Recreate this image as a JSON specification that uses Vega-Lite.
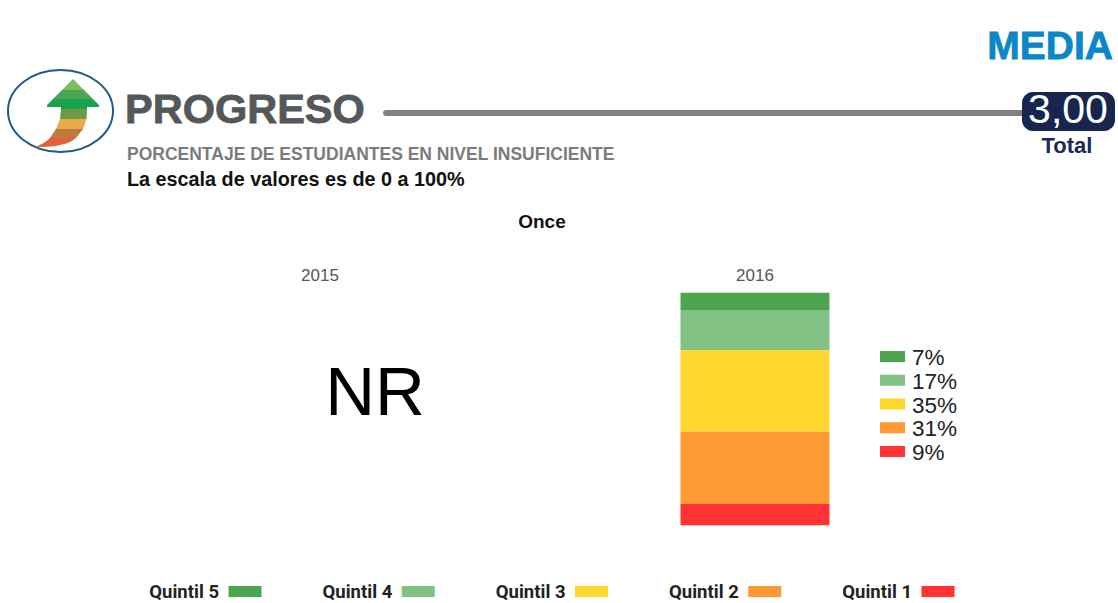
{
"$schema":"https://vega.github.io/schema/vega-lite/v6.json",
"width":1118,"height":603,"autosize":"none","padding":0,"background":"white",
"config":{"view":{"stroke":null},"font":"Liberation Sans"},
"datasets":{
"q":[
{"year":"2016","quintil":"Quintil 5","rank":5,"pct":7.44,"label":"7%"},
{"year":"2016","quintil":"Quintil 4","rank":4,"pct":17.3,"label":"17%"},
{"year":"2016","quintil":"Quintil 3","rank":3,"pct":35.0,"label":"35%"},
{"year":"2016","quintil":"Quintil 2","rank":2,"pct":31.1,"label":"31%"},
{"year":"2016","quintil":"Quintil 1","rank":1,"pct":9.16,"label":"9%"}
]},
"resolve":{"scale":{"x":"independent","y":"independent","color":"independent","shape":"independent"},"axis":{"x":"independent","y":"independent"}},
"layer":[
{"data":{"name":"q"},"mark":{"type":"bar","width":149},
 "encoding":{
  "x":{"field":"year","type":"nominal","scale":{"type":"band","domain":["2015","2016"],"range":[102.5,972.5],"paddingInner":0,"paddingOuter":0},
   "axis":{"orient":"top","title":null,"domain":false,"ticks":false,"labelAngle":0,"labelFontSize":17,"labelColor":"#555555","labelFont":"Liberation Sans","labelPadding":0,"offset":-284,"grid":false}},
  "y":{"field":"pct","type":"quantitative","stack":"zero","scale":{"domain":[0,100],"range":[525.3,292.7]},"axis":null},
  "order":{"field":"rank","type":"ordinal"},
  "color":{"field":"quintil","type":"nominal","legend":null,"scale":{"domain":["Quintil 5","Quintil 4","Quintil 3","Quintil 2","Quintil 1"],"range":["#4da64f","#81c184","#fed82f","#ff9933","#ff3333"]}}
 }},
{"data":{"name":"q"},"mark":{"type":"bar","width":25,"height":11},
 "encoding":{
  "x":{"value":892.5},
  "y":{"field":"quintil","type":"nominal","axis":null,"scale":{"type":"point","padding":0,"domain":["Quintil 5","Quintil 4","Quintil 3","Quintil 2","Quintil 1"],"range":[356.5,451.5]}},
  "color":{"field":"quintil","type":"nominal","legend":null,"scale":{"domain":["Quintil 5","Quintil 4","Quintil 3","Quintil 2","Quintil 1"],"range":["#4da64f","#81c184","#fed82f","#ff9933","#ff3333"]}}
 }},
{"data":{"name":"q"},"mark":{"type":"text","align":"left","baseline":"middle","fontSize":22.5,"color":"#222222"},
 "encoding":{
  "x":{"value":912},
  "y":{"field":"quintil","type":"nominal","axis":null,"scale":{"type":"point","padding":0,"domain":["Quintil 5","Quintil 4","Quintil 3","Quintil 2","Quintil 1"],"range":[358,453]}},
  "text":{"field":"label"}
 }},
{"data":{"name":"q"},"mark":{"type":"bar","width":33,"height":11},
 "encoding":{
  "x":{"field":"quintil","type":"nominal","axis":null,"scale":{"type":"point","padding":0,"domain":["Quintil 5","Quintil 4","Quintil 3","Quintil 2","Quintil 1"],"range":[245,938]}},
  "y":{"value":591.5},
  "color":{"field":"quintil","type":"nominal","legend":null,"scale":{"domain":["Quintil 5","Quintil 4","Quintil 3","Quintil 2","Quintil 1"],"range":["#4da64f","#81c184","#fed82f","#ff9933","#ff3333"]}}
 }},
{"data":{"name":"q"},"mark":{"type":"text","align":"right","baseline":"middle","fontSize":18.5,"fontWeight":"bold","font":"Roboto","color":"#222222","dx":-9},
 "encoding":{
  "x":{"field":"quintil","type":"nominal","axis":null,"scale":{"type":"point","padding":0,"domain":["Quintil 5","Quintil 4","Quintil 3","Quintil 2","Quintil 1"],"range":[228,921]}},
  "y":{"value":591.5},
  "text":{"field":"quintil"}
 }},
{"data":{"values":[{"year":"2015","t":"NR"}]},"mark":{"type":"text","fontSize":69,"align":"center","baseline":"middle","color":"#000000","dx":55},
 "encoding":{
  "x":{"field":"year","type":"nominal","axis":null,"scale":{"type":"band","domain":["2015","2016"],"range":[102.5,972.5],"paddingInner":0,"paddingOuter":0}},
  "y":{"value":394},
  "text":{"field":"t"}
 }},
{"data":{"values":[{"t":"Once"}]},"mark":{"type":"text","fontSize":19,"fontWeight":"bold","align":"center","baseline":"middle","color":"#111111"},
 "encoding":{"x":{"value":542},"y":{"value":222},"text":{"field":"t"}}},
{"data":{"values":[{"t":"PROGRESO"}]},"mark":{"type":"text","fontSize":41.5,"fontWeight":"bold","align":"left","baseline":"middle","color":"#54585a","stroke":"#54585a","strokeWidth":0.8},
 "encoding":{"x":{"value":125},"y":{"value":111},"text":{"field":"t"}}},
{"data":{"values":[{"t":"PORCENTAJE DE ESTUDIANTES EN NIVEL INSUFICIENTE"}]},"mark":{"type":"text","fontSize":17.5,"fontWeight":"bold","align":"left","baseline":"middle","color":"#7b7b7b"},
 "encoding":{"x":{"value":127},"y":{"value":155},"text":{"field":"t"}}},
{"data":{"values":[{"t":"La escala de valores es de 0 a 100%"}]},"mark":{"type":"text","fontSize":19.8,"fontWeight":"bold","align":"left","baseline":"middle","color":"#111111"},
 "encoding":{"x":{"value":127},"y":{"value":180},"text":{"field":"t"}}},
{"data":{"values":[{"t":"MEDIA"}]},"mark":{"type":"text","fontSize":39,"fontWeight":"bold","align":"right","baseline":"middle","color":"#0a86c9","stroke":"#0a86c9","strokeWidth":0.8},
 "encoding":{"x":{"value":1113},"y":{"value":47},"text":{"field":"t"}}},
{"data":{"values":[{"t":"line"}]},"mark":{"type":"rule","strokeWidth":6,"strokeCap":"round","color":"#808285"},
 "encoding":{"x":{"value":386},"x2":{"value":1030},"y":{"value":113}}},
{"data":{"values":[{"t":"badge"}]},"mark":{"type":"rect","cornerRadius":11,"color":"#16264f"},
 "encoding":{"x":{"value":1022},"x2":{"value":1115},"y":{"value":92},"y2":{"value":131}}},
{"data":{"values":[{"t":"3,00"}]},"mark":{"type":"text","fontSize":41,"align":"center","baseline":"middle","color":"#ffffff"},
 "encoding":{"x":{"value":1068},"y":{"value":111},"text":{"field":"t"}}},
{"data":{"values":[{"t":"Total"}]},"mark":{"type":"text","fontSize":22,"fontWeight":"bold","align":"center","baseline":"middle","color":"#1a2a50"},
 "encoding":{"x":{"value":1067},"y":{"value":146},"text":{"field":"t"}}},
{"data":{"values":[{"band":"ring"}]},"mark":{"type":"point","filled":false,"size":4,"strokeWidth":2,"opacity":1,"color":"#1f5a8a","shape":"M-52.5,0C-52.5,-22.6,-29,-41,0,-41C29,-41,52.5,-22.6,52.5,0C52.5,22.6,29,41,0,41C-29,41,-52.5,22.6,-52.5,0Z"},
 "encoding":{"x":{"value":60.5},"y":{"value":111}}},
{"data":{"values":[{"band":"b1"},{"band":"b2"},{"band":"b3"},{"band":"b4"},{"band":"b5"},{"band":"b6"},{"band":"b7"}]},"mark":{"type":"point","filled":true,"size":4,"opacity":1},
 "encoding":{"x":{"value":0},"y":{"value":0},
  "shape":{"field":"band","type":"nominal","legend":null,"scale":{"domain":["b1","b2","b3","b4","b5","b6","b7"],"range":[
   "M73,79L84,90L62,90Z",
   "M62,90L84,90L93,99L53,99Z",
   "M53,99L93,99L99,105L99,107L87,107L87,109L61,109L61,107L47,107L47,105Z",
   "M61,109L87,109L86.5,119L60,119Z",
   "M60,119L86.5,119L83,129L56,129Z",
   "M56,129L83,129L76,138L50,138Z",
   "M50,138L76,138C71,142,66,144,60,145C52,147,44,147,35,147C41,145,46,142,50,138Z"
  ]}},
  "color":{"field":"band","type":"nominal","legend":null,"scale":{"domain":["b1","b2","b3","b4","b5","b6","b7"],"range":["#7abf5a","#4da64f","#16a34f","#6f9a45","#e8ad4a","#c07a3c","#e2603f"]}}
 }}
]}
